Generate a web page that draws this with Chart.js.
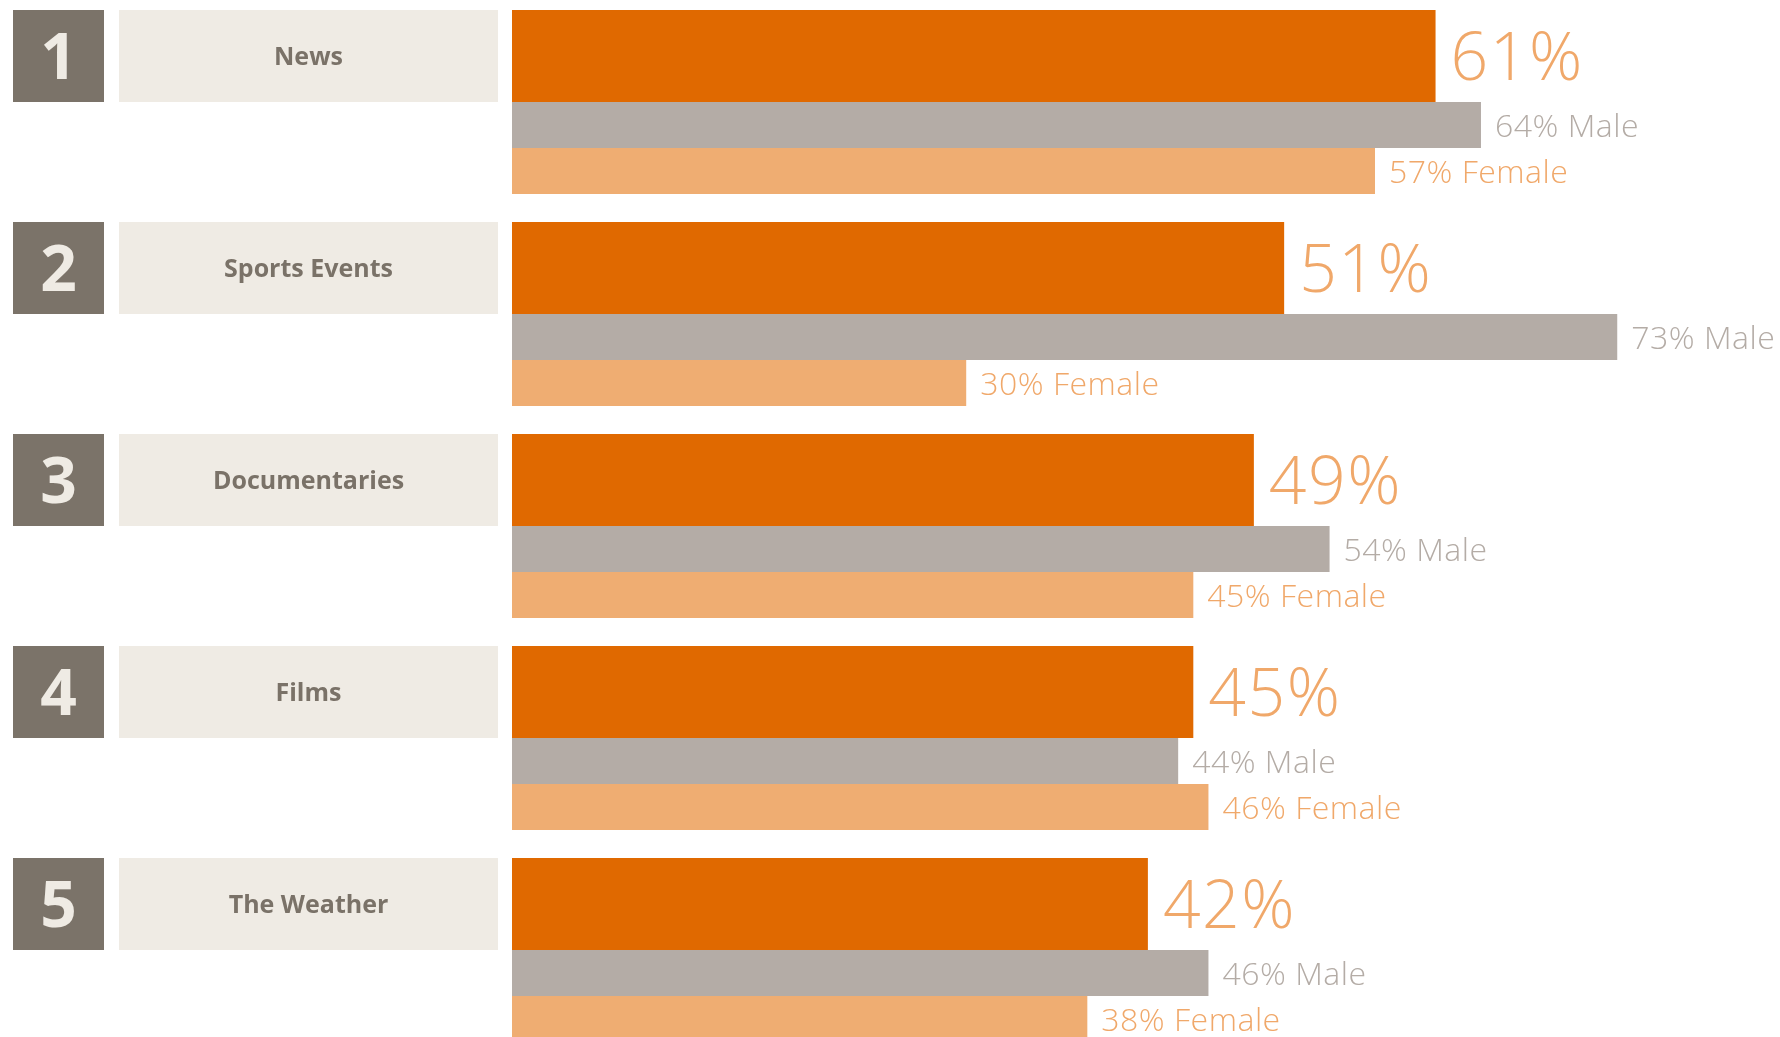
<!DOCTYPE html>
<html>
<head>
<meta charset="utf-8">
<script src="https://cdn.jsdelivr.net/npm/chart.js@4"></script>
<style>
  html, body { margin: 0; padding: 0; background: #ffffff; overflow: hidden; }
  #wrap { position: absolute; left: 0; top: -4px; width: 1780px; height: 1060px; }
</style>
</head>
<body>
<div id="wrap"><canvas id="rankChart" width="1780" height="1060"></canvas></div>
<script>
// Data
const ranks = ['1', '2', '3', '4', '5'];
const categories = ['News', 'Sports Events', 'Documentaries', 'Films', 'The Weather'];
const totalValues = [61, 51, 49, 45, 42];
const maleValues = [64, 73, 54, 44, 46];
const femaleValues = [57, 30, 45, 46, 38];

const FONT = '"Open Sans", "Noto Sans", sans-serif';

// Boxes on the left + value labels
const labelsPlugin = {
  id: 'rankLabels',
  afterDatasetsDraw(chart) {
    const ctx = chart.ctx;
    const top = chart.getDatasetMeta(0).data;
    const bottom = chart.getDatasetMeta(1).data;
    const male = chart.getDatasetMeta(2).data;
    const female = chart.getDatasetMeta(3).data;

    ctx.save();
    categories.forEach((cat, i) => {
      const t = top[i].getProps(['x', 'y', 'height'], true);
      const b = bottom[i].getProps(['x', 'y', 'height'], true);
      const y0 = Math.round(t.y - t.height / 2);
      const y1 = Math.round(b.y + b.height / 2);
      const mid = (y0 + y1) / 2;

      // numero
      ctx.letterSpacing = '0px';
      ctx.fillStyle = '#7b7369';
      ctx.fillRect(13, y0, 91, y1 - y0);
      ctx.fillStyle = '#efebe4';
      ctx.font = 'bold 64px ' + FONT;
      ctx.textAlign = 'center';
      ctx.textBaseline = 'alphabetic';
      ctx.fillText(ranks[i], 58.5, mid + 23);

      // categoria
      ctx.fillStyle = '#efebe4';
      ctx.fillRect(119, y0, 379, y1 - y0);
      ctx.fillStyle = '#7a7268';
      ctx.font = 'bold 25px ' + FONT;
      ctx.fillText(cat, 308.5, mid + 9);

      // porcentajes
      ctx.textAlign = 'left';
      ctx.fillStyle = '#f0a86a';
      ctx.font = '300 66px ' + FONT;
      ctx.letterSpacing = '1.5px';
      ctx.fillText(totalValues[i] + '%', t.x + 15, mid + 24);

      ctx.letterSpacing = '0.5px';
      const m = male[i].getProps(['x', 'y'], true);
      ctx.fillStyle = '#b4aca6';
      ctx.font = '300 32px ' + FONT;
      ctx.fillText(maleValues[i] + '% Male', m.x + 14, m.y + 12);

      const f = female[i].getProps(['x', 'y'], true);
      ctx.fillStyle = '#f0a86a';
      ctx.fillText(femaleValues[i] + '% Female', f.x + 14, f.y + 12);
    });
    ctx.restore();
  }
};

// the total bar is drawn as two halves so it is twice as thick
const barOpts = {
  borderWidth: 0,
  barPercentage: 1,
  categoryPercentage: 184 / 212
};

new Chart(document.getElementById('rankChart'), {
  type: 'bar',
  data: {
    labels: categories,
    datasets: [
      { label: 'Total', data: totalValues, backgroundColor: '#e06900', ...barOpts },
      { label: 'Total ', data: totalValues, backgroundColor: '#e06900', ...barOpts },
      { label: 'Male', data: maleValues, backgroundColor: '#b4aca6', ...barOpts },
      { label: 'Female', data: femaleValues, backgroundColor: '#efad72', ...barOpts }
    ]
  },
  options: {
    indexAxis: 'y',
    responsive: false,
    animation: false,
    devicePixelRatio: 1,
    layout: { padding: { left: 512, right: 0, top: 0, bottom: 0 } },
    plugins: {
      legend: { display: false },
      tooltip: { enabled: false }
    },
    scales: {
      x: { display: false, min: 0, max: 83.75 },
      y: { display: false, offset: true }
    }
  },
  plugins: [labelsPlugin]
});
</script>
</body>
</html>
